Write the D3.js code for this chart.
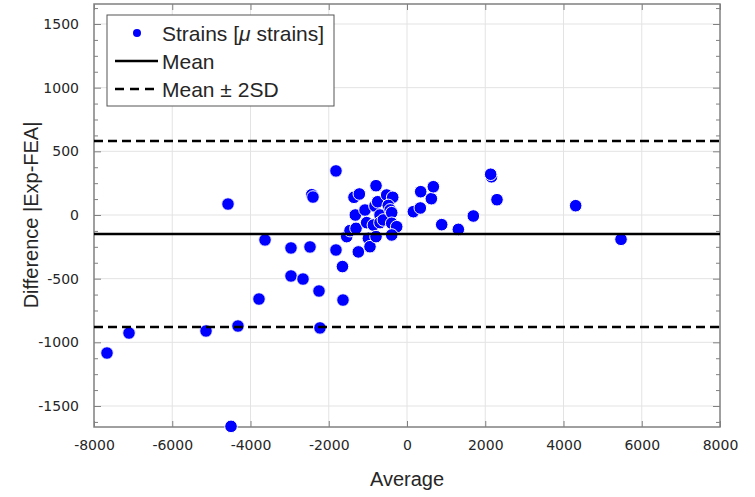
<!DOCTYPE html>
<html>
<head>
    <meta charset="utf-8">
    <title>Bland-Altman strains</title>
    <style>
        body {
            margin: 0;
            background: #fff;
        }

        .tick-label {
            font-family: 'DejaVu Sans', sans-serif;
            font-size: 14px;
            fill: #262626;
        }

        .axis-title,
        .legend-text {
            font-family: 'Liberation Sans', Arial, sans-serif;
            fill: #262626;
        }
    </style>
    <script src="https://cdnjs.cloudflare.com/ajax/libs/d3/7.8.5/d3.min.js"></script>
</head>
<body>
    <div id="chart"></div>
    <script>
        // values: average of the two methods vs. their difference
        const averages = [-7668, -7105, -5137, -4320, -4575, -4498, -3783, -3629, -2965, -2965,
            -2658, -2479, -2249, -2224, -2435, -2403, -1815, -1815, -1650, -1636,
            -1541, -1457, -1303, -1355, -1218, -1321, -1244, -1073, -1031, -987,
            -946, -859, -792, -792, -818, -749, -690, -690, -604, -519,
            -365, -478, -430, -391, -391, -263, -391, 162, 340, 350,
            622, 673, 887, 1312, 1695, 2160, 2138, 2300, 4311, 5470];
        const differences = [-1084, -927, -911, -872, 86, -1660, -660, -196, -259, -479,
            -503, -251, -597, -887, 159, 141, 346, -275, -405, -668,
            -170, -123, -105, 139, 165, 0, -290, 39, -60, -183,
            -249, -79, 230, -170, 71, 104, 0, -60, -39, 157,
            139, 75, 40, 18, -65, -92, -157, 26, 55, 183,
            128, 222, -76, -113, -8, 300, 320, 120, 73, -191];

        const meanDiff = -149;
        const sdDiff = 365;

        const xTicks = [-8000, -6000, -4000, -2000, 0, 2000, 4000, 6000, 8000];
        const yTicks = [-1500, -1000, -500, 0, 500, 1000, 1500];

        const legendItems = [
            { label: 'Strains [', italic: 'μ', rest: ' strains]', kind: 'dot' },
            { label: 'Mean', kind: 'solid' },
            { label: 'Mean ± 2SD', kind: 'dash' }
        ];

        const width = 755, height = 497;
        const plotL = 94, plotR = 720, plotT = 4, plotB = 427;

        const svg = d3.select('#chart')
            .append('svg')
            .attr('width', width)
            .attr('height', height);

        const x = d3.scaleLinear().domain([-8000, 8000]).range([plotL, plotR]);
        const y = d3.scaleLinear().domain([-1665, 1657]).range([plotB, plotT]);

        // grid
        svg.append('g')
            .selectAll('line')
            .data(xTicks.slice(1, -1))
            .join('line')
            .attr('x1', d => x(d)).attr('x2', d => x(d))
            .attr('y1', plotT).attr('y2', plotB)
            .attr('stroke', '#e3e3e3').attr('stroke-width', 1);

        svg.append('g')
            .selectAll('line')
            .data(yTicks)
            .join('line')
            .attr('x1', plotL).attr('x2', plotR)
            .attr('y1', d => y(d)).attr('y2', d => y(d))
            .attr('stroke', '#e3e3e3').attr('stroke-width', 1);

        // axes: ticks point inward, mirrored on opposite sides
        const axisColor = '#808080';
        const minorY = d3.range(-1625, 1657, 125).filter(v => v % 500 !== 0);
        const plainNum = d => String(d);   // keep ascii hyphen like the original

        const styleAxis = g => {
            g.select('.domain').remove();
            g.selectAll('.tick line').attr('stroke', axisColor);
        };

        svg.append('g')
            .attr('transform', `translate(0,${plotB})`)
            .call(d3.axisBottom(x).tickValues(xTicks).tickSizeInner(-6).tickSizeOuter(0)
                .tickFormat(plainNum).tickPadding(13))
            .call(styleAxis)
            .call(g => g.selectAll('.tick text').attr('class', 'tick-label'));

        svg.append('g')
            .attr('transform', `translate(0,${plotT})`)
            .call(d3.axisTop(x).tickValues(xTicks).tickSizeInner(-6).tickSizeOuter(0).tickFormat(''))
            .call(styleAxis);

        svg.append('g')
            .attr('transform', `translate(${plotL},0)`)
            .call(d3.axisLeft(y).tickValues(yTicks).tickSizeInner(-7).tickSizeOuter(0)
                .tickFormat(plainNum).tickPadding(15))
            .call(styleAxis)
            .call(g => g.selectAll('.tick text').attr('class', 'tick-label'));

        svg.append('g')
            .attr('transform', `translate(${plotR},0)`)
            .call(d3.axisRight(y).tickValues(yTicks).tickSizeInner(-7).tickSizeOuter(0).tickFormat(''))
            .call(styleAxis);

        svg.append('g')
            .attr('transform', `translate(${plotL},0)`)
            .call(d3.axisLeft(y).tickValues(minorY).tickSizeInner(-4).tickSizeOuter(0).tickFormat(''))
            .call(styleAxis);

        svg.append('g')
            .attr('transform', `translate(${plotR},0)`)
            .call(d3.axisRight(y).tickValues(minorY).tickSizeInner(-4).tickSizeOuter(0).tickFormat(''))
            .call(styleAxis);

        svg.append('rect')
            .attr('x', plotL).attr('y', plotT)
            .attr('width', plotR - plotL).attr('height', plotB - plotT)
            .attr('fill', 'none')
            .attr('stroke', axisColor).attr('stroke-width', 1.5);

        // points
        svg.append('g')
            .selectAll('circle')
            .data(averages.map((a, i) => [a, differences[i]]))
            .join('circle')
            .attr('cx', d => x(d[0]))
            .attr('cy', d => y(d[1]))
            .attr('r', 6.3)
            .attr('fill', '#0000ff')
            .attr('stroke', '#fff')
            .attr('stroke-width', 1);

        // mean and limits of agreement
        const refLines = [
            { v: meanDiff, dash: null },
            { v: meanDiff + 2 * sdDiff, dash: '9,5' },
            { v: meanDiff - 2 * sdDiff, dash: '9,5' }
        ];
        svg.append('g')
            .selectAll('line')
            .data(refLines)
            .join('line')
            .attr('x1', plotL).attr('x2', plotR)
            .attr('y1', d => y(d.v)).attr('y2', d => y(d.v))
            .attr('stroke', '#000')
            .attr('stroke-width', 2.5)
            .attr('stroke-dasharray', d => d.dash);

        // axis titles
        svg.append('text')
            .attr('class', 'axis-title')
            .attr('x', x(0)).attr('y', 486)
            .attr('text-anchor', 'middle')
            .style('font-size', '20px')
            .text('Average');

        svg.append('text')
            .attr('class', 'axis-title')
            .attr('transform', `translate(38,${y(0)}) rotate(-90)`)
            .attr('text-anchor', 'middle')
            .style('font-size', '20px')
            .text('Difference |Exp-FEA|');

        // legend
        const legend = svg.append('g');
        legend.append('rect')
            .attr('x', 107).attr('y', 15)
            .attr('width', 227).attr('height', 91)
            .attr('fill', '#fff')
            .attr('stroke', '#555').attr('stroke-width', 1);

        const rows = legend.selectAll('g.row')
            .data(legendItems)
            .join('g')
            .attr('class', 'row')
            .attr('transform', (d, i) => `translate(0, ${33 + i * 28})`);

        rows.filter(d => d.kind === 'dot')
            .append('circle')
            .attr('cx', 137).attr('cy', 0).attr('r', 4)
            .attr('fill', '#0000ff');

        rows.filter(d => d.kind !== 'dot')
            .append('line')
            .attr('x1', 115).attr('x2', 158)
            .attr('y1', 0).attr('y2', 0)
            .attr('stroke', '#000').attr('stroke-width', 2.5)
            .attr('stroke-dasharray', d => d.kind === 'dash' ? '9,6' : null);

        const labels = rows.append('text')
            .attr('class', 'legend-text')
            .attr('x', 162).attr('y', 7.5)
            .style('font-size', '21px');
        labels.append('tspan').text(d => d.label);
        labels.filter(d => d.italic)
            .append('tspan').style('font-style', 'italic').text(d => d.italic);
        labels.filter(d => d.rest)
            .append('tspan').text(d => d.rest);
    </script>
</body>
</html>
